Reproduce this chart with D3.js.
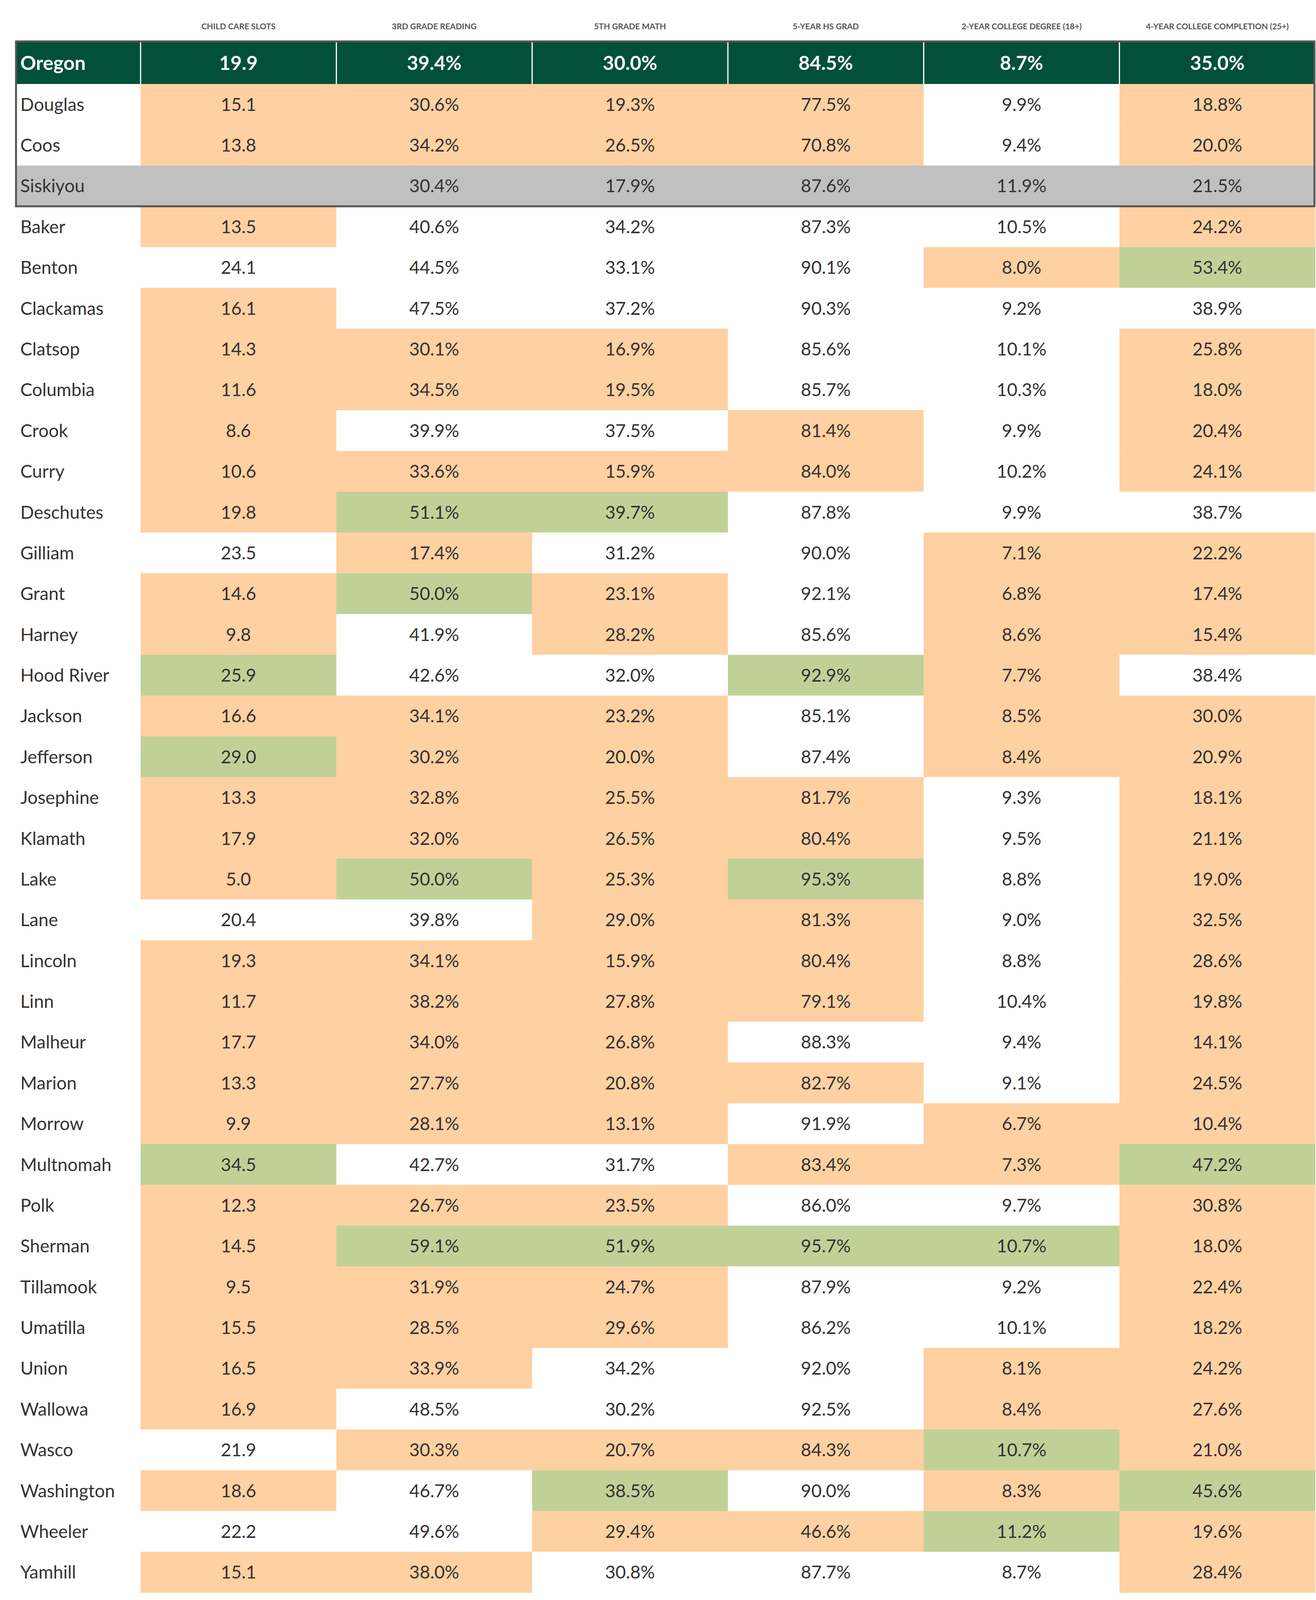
<!DOCTYPE html>
<meta charset="utf-8">
<style>
body { margin: 0; background: #fff; }
text { font-family: Lato, "Open Sans", sans-serif; }
</style>
<body>
<script src="https://cdn.jsdelivr.net/npm/d3@7"></script>
<script>
// columns and data
var headers = ["CHILD CARE SLOTS", "3RD GRADE READING", "5TH GRADE MATH", "5-YEAR HS GRAD",
  "2-YEAR COLLEGE DEGREE (18+)", "4-YEAR COLLEGE COMPLETION (25+)"];
var stateRow = ["Oregon", 19.9, 39.4, 30.0, 84.5, 8.7, 35.0];

var counties = ["Douglas","Coos","Siskiyou","Baker","Benton","Clackamas","Clatsop","Columbia","Crook","Curry",
  "Deschutes","Gilliam","Grant","Harney","Hood River","Jackson","Jefferson","Josephine","Klamath","Lake",
  "Lane","Lincoln","Linn","Malheur","Marion","Morrow","Multnomah","Polk","Sherman","Tillamook",
  "Umatilla","Union","Wallowa","Wasco","Washington","Wheeler","Yamhill"];

var childCare = [15.1,13.8,null,13.5,24.1,16.1,14.3,11.6,8.6,10.6,19.8,23.5,14.6,9.8,25.9,16.6,29.0,13.3,17.9,5.0,
  20.4,19.3,11.7,17.7,13.3,9.9,34.5,12.3,14.5,9.5,15.5,16.5,16.9,21.9,18.6,22.2,15.1];
var reading3 = [30.6,34.2,30.4,40.6,44.5,47.5,30.1,34.5,39.9,33.6,51.1,17.4,50.0,41.9,42.6,34.1,30.2,32.8,32.0,50.0,
  39.8,34.1,38.2,34.0,27.7,28.1,42.7,26.7,59.1,31.9,28.5,33.9,48.5,30.3,46.7,49.6,38.0];
var math5 = [19.3,26.5,17.9,34.2,33.1,37.2,16.9,19.5,37.5,15.9,39.7,31.2,23.1,28.2,32.0,23.2,20.0,25.5,26.5,25.3,
  29.0,15.9,27.8,26.8,20.8,13.1,31.7,23.5,51.9,24.7,29.6,34.2,30.2,20.7,38.5,29.4,30.8];
var hsGrad = [77.5,70.8,87.6,87.3,90.1,90.3,85.6,85.7,81.4,84.0,87.8,90.0,92.1,85.6,92.9,85.1,87.4,81.7,80.4,95.3,
  81.3,80.4,79.1,88.3,82.7,91.9,83.4,86.0,95.7,87.9,86.2,92.0,92.5,84.3,90.0,46.6,87.7];
var college2 = [9.9,9.4,11.9,10.5,8.0,9.2,10.1,10.3,9.9,10.2,9.9,7.1,6.8,8.6,7.7,8.5,8.4,9.3,9.5,8.8,
  9.0,8.8,10.4,9.4,9.1,6.7,7.3,9.7,10.7,9.2,10.1,8.1,8.4,10.7,8.3,11.2,8.7];
var college4 = [18.8,20.0,21.5,24.2,53.4,38.9,25.8,18.0,20.4,24.1,38.7,22.2,17.4,15.4,38.4,30.0,20.9,18.1,21.1,19.0,
  32.5,28.6,19.8,14.1,24.5,10.4,47.2,30.8,18.0,22.4,18.2,24.2,27.6,21.0,45.6,19.6,28.4];

// o = below state, g = above, w = neutral, s = comparison (grey row)
var shading = ["oooowo","oooowo","ssssss","owwwwo","wwwwog","owwwww","ooowwo","ooowwo","owwowo","oooowo",
  "oggwww","wowwoo","ogowoo","owowoo","gwwgow","ooowoo","goowoo","oooowo","oooowo","ogogwo",
  "wwoowo","oooowo","oooowo","ooowwo","oooowo","ooowoo","gwwoog","ooowwo","oggggo","ooowwo",
  "ooowwo","oowwoo","owwwoo","wooogo","owgwog","wwoogo","oowwwo"];

var fills = { o: "#ffd0a1", g: "#c0d198", w: "#ffffff", s: "#c0c0c0" };
var columns = [childCare, reading3, math5, hsGrad, college2, college4];

var W = 3370, H = 4110;
var svg = d3.select("body").append("svg").attr("width", W).attr("height", H);

var x = d3.scaleLinear().domain([0, 6]).range([360, 3368]);
var colW = x(1) - x(0);
var stateTop = 106, stateH = 109;
var y = d3.scaleBand().domain(counties).range([stateTop + stateH, 4077]);

var fmt = function(v, i) {
  if (v == null) return "";
  return i === 0 ? d3.format(".1f")(v) : d3.format(".1f")(v) + "%";
};

// column headers
svg.selectAll(".hdr").data(headers).enter().append("text")
  .attr("x", function(d, i) { return x(i) + colW / 2; })
  .attr("y", 75)
  .attr("text-anchor", "middle")
  .attr("font-size", 21).attr("font-weight", 700).attr("fill", "#555")
  .text(function(d) { return d; });

// state row
svg.append("rect").attr("x", 39).attr("y", stateTop).attr("width", 3368 - 39).attr("height", stateH).attr("fill", "#02503a");
svg.selectAll(".sep").data(d3.range(6)).enter().append("line")
  .attr("x1", function(i) { return x(i); }).attr("x2", function(i) { return x(i); })
  .attr("y1", stateTop).attr("y2", stateTop + stateH)
  .attr("stroke", "#fff").attr("stroke-width", 3);
svg.append("text").attr("x", 52).attr("y", stateTop + stateH / 2).attr("dy", "0.36em")
  .attr("font-size", 50).attr("font-weight", 700).attr("fill", "#fff").text(stateRow[0]);
svg.selectAll(".sv").data(stateRow.slice(1)).enter().append("text")
  .attr("x", function(d, i) { return x(i) + colW / 2; })
  .attr("y", stateTop + stateH / 2).attr("dy", "0.36em")
  .attr("text-anchor", "middle").attr("font-size", 50).attr("font-weight", 700).attr("fill", "#fff")
  .text(function(d, i) { return fmt(d, i); });

// county rows
var rows = svg.selectAll(".row").data(counties).enter().append("g")
  .attr("transform", function(d) { return "translate(0," + y(d) + ")"; });

rows.filter(function(d, r) { return shading[r][0] === "s"; }).append("rect")
  .attr("x", 39).attr("width", x(0) - 39).attr("height", y.bandwidth()).attr("fill", fills.s);

rows.each(function(name, r) {
  var g = d3.select(this);
  var cells = g.selectAll(".cell").data(columns.map(function(c) { return c[r]; })).enter();
  cells.append("rect")
    .attr("x", function(d, i) { return x(i); })
    .attr("width", colW + 0.5).attr("height", y.bandwidth() + 0.5)
    .attr("fill", function(d, i) { return fills[shading[r][i]]; });
  cells.append("text")
    .attr("x", function(d, i) { return x(i) + colW / 2; })
    .attr("y", y.bandwidth() / 2).attr("dy", "0.36em")
    .attr("text-anchor", "middle").attr("font-size", 46).attr("fill", "#333")
    .text(function(d, i) { return fmt(d, i); });
});

rows.append("text").attr("x", 52).attr("y", y.bandwidth() / 2).attr("dy", "0.36em")
  .attr("font-size", 46).attr("fill", "#333").text(function(d) { return d; });

// box around state + comparison counties
svg.append("rect").attr("x", 41).attr("y", stateTop)
  .attr("width", 3366 - 41).attr("height", y("Baker") - stateTop)
  .attr("fill", "none").attr("stroke", "#555").attr("stroke-width", 5);
</script>
</body>
